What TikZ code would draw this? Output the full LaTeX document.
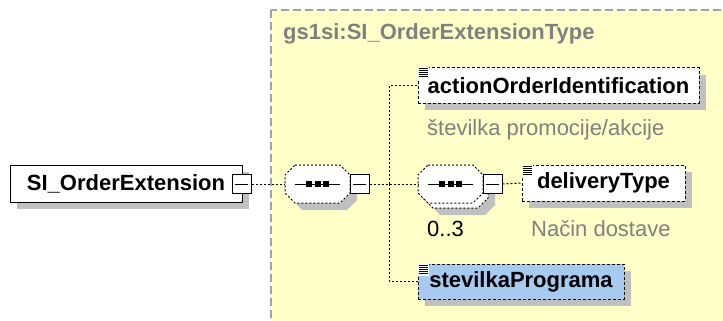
\documentclass[tikz,border=0pt]{standalone}
\usepackage{fontspec}
\setmainfont{Liberation Sans}
\usetikzlibrary{shadows}

\definecolor{panelyellow}{RGB}{255,255,200}
\definecolor{panelgray}{RGB}{160,160,160}
\definecolor{textgray}{RGB}{128,128,128}
\definecolor{shadowgray}{RGB}{192,192,192}
\definecolor{globalblue}{RGB}{166,202,240}

\tikzset{
	conn/.style={draw, line width=1pt, dash pattern=on 2pt off 2pt},
	shade7/.style={drop shadow={shadow xshift=7pt, shadow yshift=-7pt, fill=shadowgray, opacity=1}},
	elembox/.style={draw, fill=white, line width=1pt, inner sep=0pt, minimum height=36pt, font=\fontsize{22}{26}\selectfont\bfseries, shade7},
	optbox/.style={elembox, dash pattern=on 3pt off 2pt},
	minusbox/.style={draw, fill=white, line width=1pt, minimum size=19pt, inner sep=0pt,
		path picture={\draw[line width=1pt] ([xshift=3pt]path picture bounding box.west) -- ([xshift=-3pt]path picture bounding box.east);}},
	comp/.style={draw, fill=white, line width=1pt, dash pattern=on 2pt off 2pt},
	desc/.style={anchor=west, text=textgray, inner sep=0pt, font=\fontsize{22}{26}\selectfont},
}

\begin{document}
\begin{tikzpicture}[x=1pt, y=-1pt]
		\useasboundingbox (0,0) rectangle (723,321);
		
		% complex type panel
		\draw[panelgray, fill=panelyellow, line width=1.5pt, dash pattern=on 8pt off 4pt] (271,10) rectangle (735,335);
		\node[anchor=west, inner sep=0pt, text=textgray, font=\fontsize{22}{26}\selectfont\bfseries] (typename) at (283,34) {gs1si:SI\_OrderExtensionType};
		
		% root element
		\node[elembox, minimum width=232pt, minimum height=37pt] (root) at (126,183.5) {SI\_OrderExtension};
		\node[minusbox] (rootm) at (241.5,184) {};
		
		% first sequence
		\begin{scope}[shift={(285,165)}]
			\fill[shadowgray] (17,7) -- (62,7) -- (72,17) -- (72,35) -- (62,45) -- (17,45) -- (7,35) -- (7,17) -- cycle;
			\draw[comp] (10,0) -- (55,0) -- (65,10) -- (65,28) -- (55,38) -- (10,38) -- (0,28) -- (0,10) -- cycle;
			\draw[line width=1pt] (10,19) -- (55,19);
			\foreach \x in {24,32.5,41}
			{
				\fill (\x-3,16) rectangle (\x+3,22);
			}
			\node[minimum width=65pt, minimum height=38pt, inner sep=0pt] (seqA) at (32.5,19) {};
			\node[minusbox] (seqAm) at (74.5,19) {};
		\end{scope}
		
		% second sequence, 0..3
		\begin{scope}[shift={(418,165)}]
			\fill[shadowgray] (22,12) -- (67,12) -- (77,22) -- (77,40) -- (67,50) -- (22,50) -- (12,40) -- (12,22) -- cycle;
			\draw[comp] (15,5) -- (60,5) -- (70,15) -- (70,33) -- (60,43) -- (15,43) -- (5,33) -- (5,15) -- cycle;
			\draw[comp] (10,0) -- (55,0) -- (65,10) -- (65,28) -- (55,38) -- (10,38) -- (0,28) -- (0,10) -- cycle;
			\draw[line width=1pt] (10,19) -- (55,19);
			\foreach \x in {24,32.5,41}
			{
				\fill (\x-3,16) rectangle (\x+3,22);
			}
			\node[minimum width=65pt, minimum height=38pt, inner sep=0pt] (seqB) at (32.5,19) {};
			\node[minusbox] (seqBm) at (74.5,19) {};
		\end{scope}
		\node[anchor=west, inner sep=0pt, font=\fontsize{22}{26}\selectfont] (seqBocc) at (427,229) {0..3};
		
		% child elements
		\node[optbox, minimum width=281pt, minimum height=35pt] (action) at (558.5,85.5) {actionOrderIdentification};
		\node[desc] (actiondesc) at (427,130) {številka promocije/akcije};
		\node[optbox, minimum width=163pt] (dtype) at (603.5,183) {deliveryType};
		\node[desc] (dtypedesc) at (531,229) {Način dostave};
		\node[optbox, fill=globalblue, minimum width=206pt, minimum height=35pt] (prog) at (521,281.5) {stevilkaPrograma};
		
		\foreach \n in {action,dtype,prog}
		{
			\fill[white] (\n.north west) rectangle ++(11,12);
			\foreach \k in {1.5,3.5,5.5,7.5,9.5}
			{
				\draw[line width=1pt] ([shift={(1,\k)}]\n.north west) -- ++(9,0);
			}
		}
		
		% connectors
		\coordinate (junc) at (389,184);
		\draw[conn] (rootm.east) -- (seqA.west);
		\draw[conn] (seqAm.east) -- (seqB.west);
		\draw[conn] (junc) |- (action.west);
		\draw[conn] (junc) |- (prog.west);
		\draw[conn] (seqBm.east) -- (dtype.west);
		
	\end{tikzpicture}
\end{document}
